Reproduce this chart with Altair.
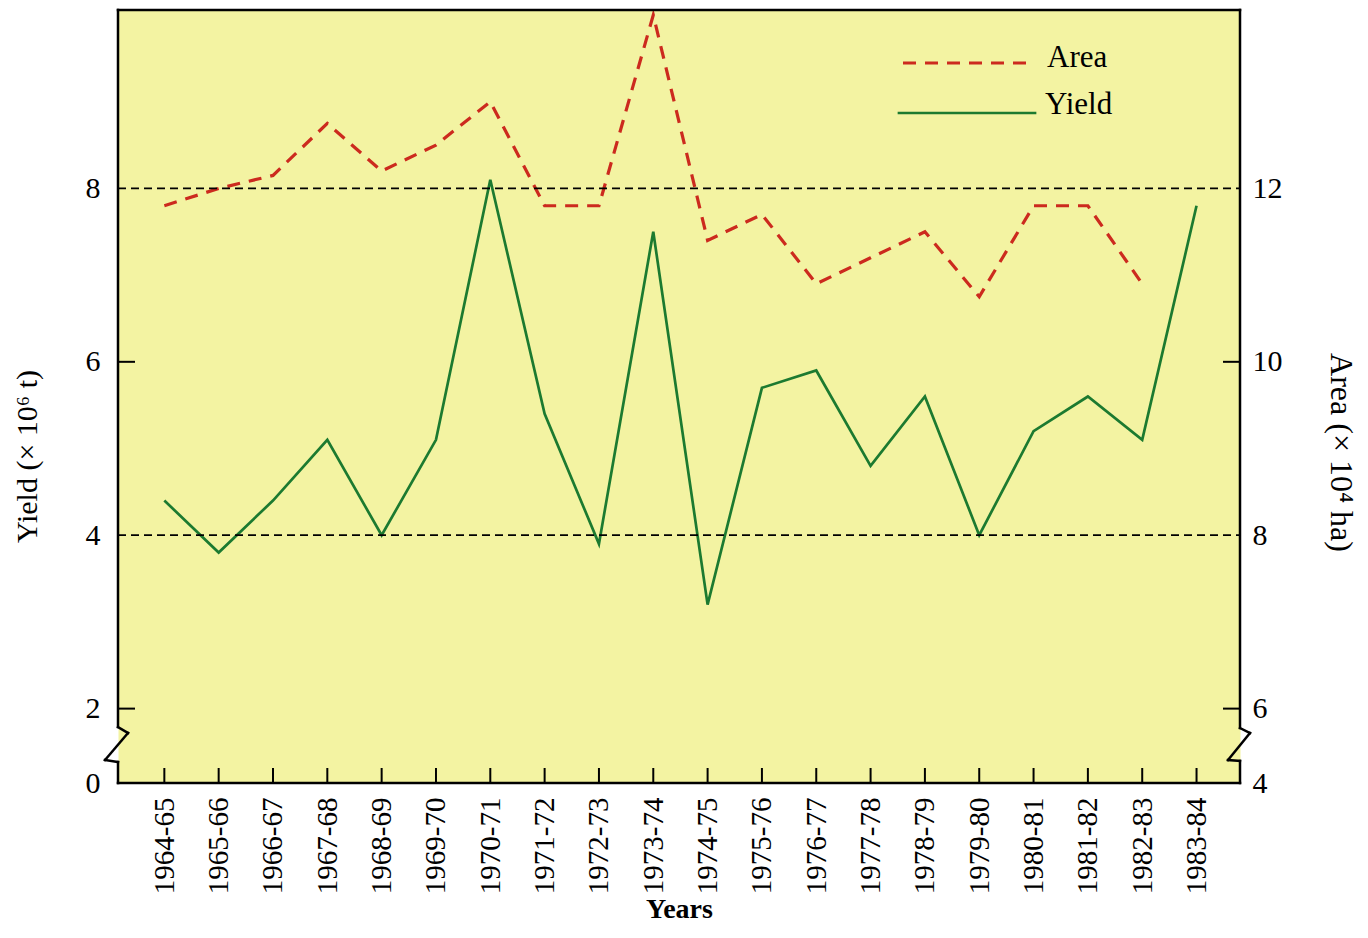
import json
import altair as alt
import pandas as pd

# ---------------- data ----------------
SEASONS = ["1964-65", "1965-66", "1966-67", "1967-68", "1968-69", "1969-70",
           "1970-71", "1971-72", "1972-73", "1973-74", "1974-75", "1975-76",
           "1976-77", "1977-78", "1978-79", "1979-80", "1980-81", "1981-82",
           "1982-83", "1983-84"]
YIELD = [4.4, 3.8, 4.4, 5.1, 4.0, 5.1, 8.1, 5.4, 3.9, 7.5,
         3.2, 5.7, 5.9, 4.8, 5.6, 4.0, 5.2, 5.6, 5.1, 7.8]
AREA = [11.8, 12.0, 12.15, 12.75, 12.2, 12.5, 13.0, 11.8, 11.8, 14.0,
        11.4, 11.7, 10.9, 11.2, 11.5, 10.75, 11.8, 11.8, 10.9, None]
GRID_YIELD = [4, 8]
LEFT_TICKS = [2, 6]
RIGHT_TICKS = [6, 10]
LEFT_LABELS = [2, 4, 6, 8]
RIGHT_LABELS = [6, 8, 10, 12]
LEGEND_LABELS = ["Area", "Yield"]

# ---------------- layout / style ----------------
W, H = 1122, 773
Y_MIN, Y_MAX = 1.142, 10.058
A_MIN, A_MAX = Y_MIN + 4, Y_MAX + 4
X_DOM = [-0.853, 19.8]
FONT = "Liberation Serif"
GREEN = "#1c7a30"
RED = "#cc2a1e"
BG = "#f3f3a2"
LW = 2.5

df = pd.DataFrame({"idx": list(range(len(SEASONS))), "season": SEASONS,
                   "yield": YIELD, "area": AREA})
dummy = pd.DataFrame({"k": [0]})

xscale = alt.Scale(domain=X_DOM, nice=False, zero=False)
yscale = alt.Scale(domain=[Y_MIN, Y_MAX], nice=False, zero=False)
ascale = alt.Scale(domain=[A_MIN, A_MAX], nice=False, zero=False)

x_axis = alt.Axis(
    values=list(range(len(SEASONS))),
    labelExpr=json.dumps(SEASONS) + "[datum.value]",
    labelAngle=270, labelFont=FONT, labelFontSize=29, labelColor="black",
    labelPadding=14, labelFlush=False, labelOverlap=False,
    ticks=False, tickSize=0, domain=False, grid=False,
    title="Years", titleFont=FONT, titleFontSize=28, titleFontWeight="bold",
    titleColor="black", titlePadding=2,
)
left_axis = alt.Axis(
    orient="left", values=[Y_MIN] + LEFT_LABELS,
    labelExpr="datum.value < 1.5 ? '0' : format(datum.value, 'd')",
    labelFont=FONT, labelFontSize=30, labelColor="black", labelPadding=18,
    labelFlush=False, labelOverlap=False,
    ticks=False, tickSize=0, domain=False, grid=False,
    title="Yield (× 10⁶ t)", titleFont=FONT, titleFontSize=30,
    titleFontWeight="normal", titleColor="black",
    titleX=-91, titleY=446, titleAngle=270, titleAlign="center",
    titleBaseline="middle",
)
right_axis = alt.Axis(
    orient="right", values=[A_MIN] + RIGHT_LABELS,
    labelExpr="datum.value < 5.5 ? '4' : format(datum.value, 'd')",
    labelFont=FONT, labelFontSize=30, labelColor="black", labelPadding=12,
    labelFlush=False, labelOverlap=False,
    ticks=False, tickSize=0, domain=False, grid=False,
    title="Area (× 10⁴ ha)", titleFont=FONT, titleFontSize=32,
    titleFontWeight="normal", titleColor="black",
    titleX=100, titleY=442, titleAngle=90, titleAlign="center",
    titleBaseline="middle",
)

X = alt.X("idx:Q", scale=xscale, axis=x_axis)

# ---- data-driven layers ----
grid = alt.Chart(pd.DataFrame({"v": GRID_YIELD})).mark_rule(
    color="black", strokeWidth=1.8, strokeDash=[8, 5]
).encode(y=alt.Y("v:Q", scale=yscale, axis=None), x=alt.value(0), x2=alt.value(W))

lticks = alt.Chart(pd.DataFrame({"v": LEFT_TICKS})).mark_rule(
    color="black", strokeWidth=2
).encode(y=alt.Y("v:Q", scale=yscale, axis=None), x=alt.value(0), x2=alt.value(17))

rticks = alt.Chart(pd.DataFrame({"v": RIGHT_TICKS})).mark_rule(
    color="black", strokeWidth=2
).encode(y=alt.Y("v:Q", scale=ascale, axis=None), x=alt.value(W - 17), x2=alt.value(W))

xticks = alt.Chart(df).mark_rule(color="black", strokeWidth=2).encode(
    x=X, y=alt.value(H), y2=alt.value(H - 15),
)

yield_line = alt.Chart(df).mark_line(color=GREEN, strokeWidth=2.7).encode(
    x=X, y=alt.Y("yield:Q", scale=yscale, axis=left_axis)
)

area_line = alt.Chart(df).mark_line(
    color=RED, strokeWidth=3.2, strokeDash=[13, 9]
).encode(x=X, y=alt.Y("area:Q", scale=ascale, axis=right_axis))


# ---- frame with axis breaks ----
def seg(x1, y1, x2, y2, color="black", width=LW, dash=None):
    kw = dict(color=color, strokeWidth=width, strokeCap="square")
    if dash:
        kw["strokeDash"] = dash
        kw["strokeCap"] = "butt"
    return alt.Chart(dummy).mark_rule(**kw).encode(
        x=alt.value(x1), y=alt.value(y1), x2=alt.value(x2), y2=alt.value(y2))


frame = [
    seg(0, 0, W, 0), seg(0, H, W, H),
    seg(0, 0, 0, 717), seg(0, 717, 10, 723), seg(10, 723, -13, 750),
    seg(-13, 750, 0, 752), seg(0, 752, 0, H),
    seg(W, 0, W, 718), seg(W, 718, W + 10, 723), seg(W + 10, 723, W - 12, 750),
    seg(W - 12, 750, W, 751), seg(W, 751, W, H),
]

# ---- legend ----
legend = [
    seg(785, 53, 912, 53, color=RED, width=3.2, dash=[13, 9]),
    seg(781, 103, 917, 103, color=GREEN, width=2.7),
    alt.Chart(dummy).mark_text(text=LEGEND_LABELS[0], font=FONT, fontSize=31,
                               align="left", baseline="middle", color="black"
                               ).encode(x=alt.value(929), y=alt.value(48)),
    alt.Chart(dummy).mark_text(text=LEGEND_LABELS[1], font=FONT, fontSize=31,
                               align="left", baseline="middle", color="black"
                               ).encode(x=alt.value(927), y=alt.value(95)),
]

chart = alt.layer(
    yield_line, area_line, grid, lticks, rticks, xticks, *frame, *legend
).resolve_scale(
    y="independent"
).properties(
    width=W, height=H,
    autosize=alt.AutoSizeParams(type="none"),
    padding={"left": 110, "top": 2, "right": 120, "bottom": 147},
).configure_view(fill=BG, stroke="transparent")

chart.save("out.html", embed_options={"renderer": "svg", "actions": False})
